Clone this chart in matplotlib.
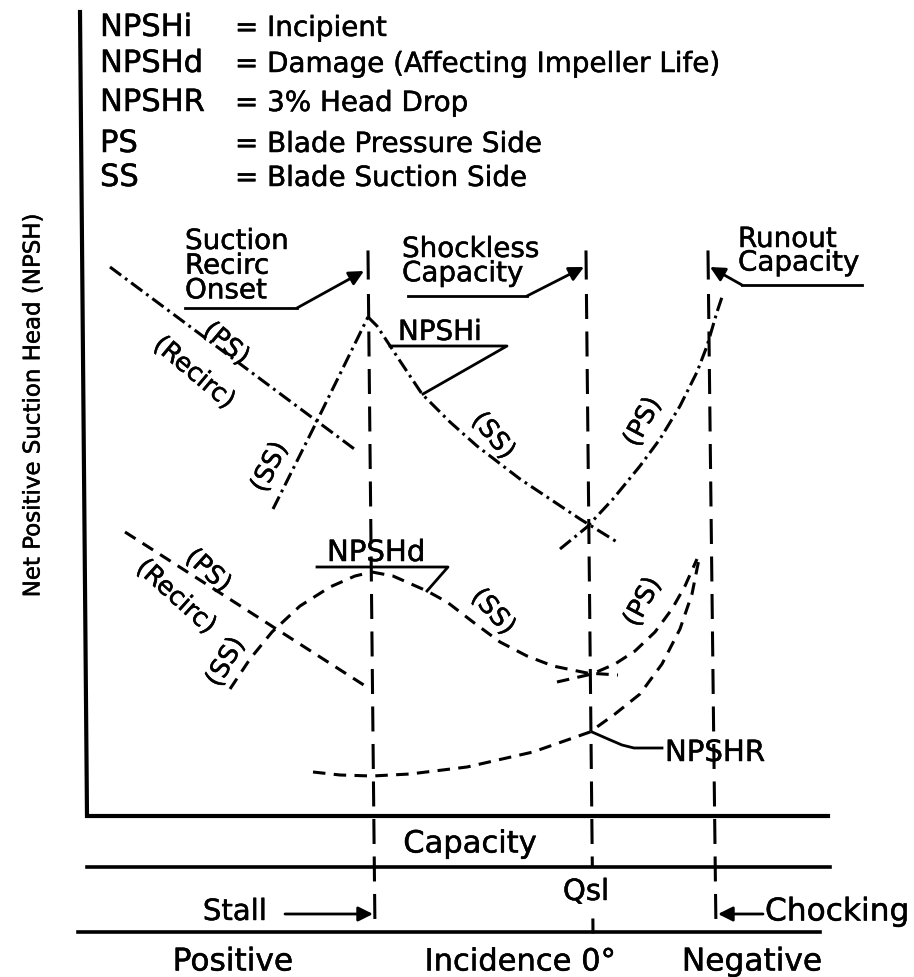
import matplotlib.pyplot as plt
import matplotlib.patheffects as pe

plt.rcParams['font.family'] = ['DejaVu Sans']
plt.rcParams['lines.scale_dashes'] = False

# sheet units: x to the right, y downward (like the drawing sheet)
W, H = 914, 978

# key
key_names = ['NPSHi', 'NPSHd', 'NPSHR', 'PS', 'SS']
key_meaning = ['= Incipient', '= Damage (Affecting Impeller Life)',
               '= 3% Head Drop', '= Blade Pressure Side', '= Blade Suction Side']

# capacity markers (x at top, x at bottom of the slightly skewed sheet)
q_stall = (368, 375)
q_shockless = (586, 593)
q_runout = (708, 716)

# NPSHi curves (dash-dot)
npshi_recirc_x = [110, 357]
npshi_recirc_y = [268, 452]
npshi_ss_left_x = [273, 313, 368]
npshi_ss_left_y = [510, 430, 318]
npshi_ss_right_x = [368, 377, 400, 422, 450, 477, 520, 550, 580, 617]
npshi_ss_right_y = [318, 327, 362, 395, 423, 447, 480, 500, 520, 543]
npshi_ps_right_x = [560, 587, 613, 640, 660, 680, 697, 707, 717, 722]
npshi_ps_right_y = [550, 528, 500, 467, 440, 407, 373, 347, 313, 298]

# NPSHd curves (dashed)
npshd_recirc_x = [125, 370]
npshd_recirc_y = [533, 690]
npshd_ss_left_x = [230, 250, 272, 300, 330, 355, 372]
npshd_ss_left_y = [690, 660, 633, 607, 588, 577, 573]
npshd_ss_right_x = [372, 393, 427, 447, 473, 500, 527, 553, 587, 618]
npshd_ss_right_y = [573, 577, 592, 603, 623, 643, 657, 667, 674, 676]
npshd_ps_right_x = [557, 592, 615, 635, 655, 672, 685, 697]
npshd_ps_right_y = [683, 675, 665, 652, 633, 610, 587, 560]

# NPSHR curve (dashed)
npshr_x = [313, 340, 372, 410, 467, 533, 590, 615, 640, 662, 680, 692, 700]
npshr_y = [773, 776, 777, 775, 768, 753, 733, 715, 695, 665, 630, 595, 555]

fig = plt.figure(figsize=(W / 100, H / 100), dpi=100)
ax = fig.add_axes([0, 0, 1, 1])
ax.set_xlim(0, W)
ax.set_ylim(H, 0)
ax.axis('off')

ink = 'black'
heavy = [pe.withStroke(linewidth=0.35, foreground=ink)]
dashdot = (0, (10, 3.5, 2, 3.5))
dashed = (0, (9, 6))
longdash = (0, (18, 9))


def label(x, y, s, size=21, **kw):
    return ax.text(x, y, s, fontsize=size, color=ink, path_effects=heavy, **kw)


def marker_x(q, y):
    # x of a capacity marker at height y on the skewed sheet
    return q[0] + (q[1] - q[0]) * (y - 253) / (933 - 253)


# frame and the two scale lines underneath
ax.plot([80, 87, 828], [13, 817, 817], color=ink, lw=3, solid_joinstyle='miter')
ax.plot([87, 830], [868, 868], color=ink, lw=2.6)
ax.plot([78, 820], [933, 933], color=ink, lw=2.6)

# vertical capacity markers: short tick on top, then long dashes
for q in (q_stall, q_shockless, q_runout):
    ax.plot([q[0], marker_x(q, 279)], [253, 279], color=ink, lw=2.2)
    y_end = 868 if q is q_shockless else 933
    ax.plot([marker_x(q, 295), marker_x(q, y_end)], [295, y_end],
            color=ink, lw=2.2, linestyle=longdash)
# short foot below Qsl
ax.plot([marker_x(q_shockless, 921), q_shockless[1]], [921, 933], color=ink, lw=2.2)

# NPSHi
for xs, ys in [(npshi_recirc_x, npshi_recirc_y), (npshi_ss_left_x, npshi_ss_left_y),
               (npshi_ss_right_x, npshi_ss_right_y), (npshi_ps_right_x, npshi_ps_right_y)]:
    ax.plot(xs, ys, color=ink, lw=2.2, linestyle=dashdot)

# NPSHd
for xs, ys in [(npshd_recirc_x, npshd_recirc_y), (npshd_ss_left_x, npshd_ss_left_y),
               (npshd_ss_right_x, npshd_ss_right_y), (npshd_ps_right_x, npshd_ps_right_y)]:
    ax.plot(xs, ys, color=ink, lw=2.2, linestyle=dashed)

# NPSHR
ax.plot(npshr_x, npshr_y, color=ink, lw=2.2, linestyle=dashed)

# key at the top
for i, (k, m) in enumerate(zip(key_names, key_meaning)):
    yb = [37, 73, 112, 153, 187][i]
    label(100, yb, k, size=22, va='baseline', ha='left')
    label(235, yb, m, size=20, va='baseline', ha='left')

# y label
label(33, 407, 'Net Positive Suction Head (NPSH)', size=16.5,
      rotation=90, ha='center', va='center')

# callouts with arrows
arrow = dict(arrowstyle='-|>', color=ink, lw=2, mutation_scale=22, shrinkA=0, shrinkB=0)
label(185, 228, 'Suction\nRecirc\nOnset', size=20, va='top', ha='left', linespacing=0.85)
ax.plot([185, 297], [309, 309], color=ink, lw=2)
ax.annotate('', xy=(364, 272), xytext=(297, 309), arrowprops=arrow)

label(402, 236, 'Shockless\nCapacity', size=20, va='top', ha='left', linespacing=0.83)
ax.plot([408, 527], [297, 297], color=ink, lw=2)
ax.annotate('', xy=(584, 268), xytext=(527, 297), arrowprops=arrow)

label(738, 226, 'Runout\nCapacity', size=20, va='top', ha='left', linespacing=0.8)
ax.plot([742, 862], [286, 286], color=ink, lw=2)
ax.annotate('', xy=(710, 268), xytext=(742, 286), arrowprops=arrow)

# curve names with leaders
label(398, 341, 'NPSHi', size=20, va='baseline', ha='left')
ax.plot([390, 507, 423], [347, 347, 395], color=ink, lw=2)
label(327, 562, 'NPSHd', size=21, va='baseline', ha='left')
ax.plot([317, 448, 427], [568, 568, 592], color=ink, lw=2)
label(665, 762, 'NPSHR', size=21, va='baseline', ha='left')
ax.plot([592, 608, 622, 634, 662], [733, 740, 746, 749, 749], color=ink, lw=2)

# side labels along the curves
side_labels = [
    ('(PS)', 226, 345, -40), ('(Recirc)', 194, 374, -40), ('(SS)', 270, 468, 64),
    ('(SS)', 493, 437, -50), ('(PS)', 643, 423, 62),
    ('(PS)', 208, 572, -42), ('(Recirc)', 176, 598, -42), ('(SS)', 226, 663, 60),
    ('(SS)', 493, 613, -48), ('(PS)', 643, 603, 62),
]
for s, x, y, r in side_labels:
    label(x, y, s, size=18.5, rotation=r, rotation_mode='anchor',
          ha='center', va='center')

# capacity / incidence scales
label(470, 845, 'Capacity', size=22, ha='center', va='center')
label(586, 893, 'Qsl', size=21, ha='center', va='center')
label(267, 913, 'Stall', size=21, ha='right', va='center')
ax.annotate('', xy=(373, 915), xytext=(285, 915), arrowprops=arrow)
label(765, 913, 'Chocking', size=22.5, ha='left', va='center')
ax.annotate('', xy=(718, 915), xytext=(763, 915), arrowprops=arrow)
label(233, 963, 'Positive', size=22.5, ha='center', va='center')
label(520, 963, 'Incidence 0°', size=22, ha='center', va='center')
label(752, 963, 'Negative', size=22.5, ha='center', va='center')

fig.savefig('out.png', dpi=100, facecolor='white')
